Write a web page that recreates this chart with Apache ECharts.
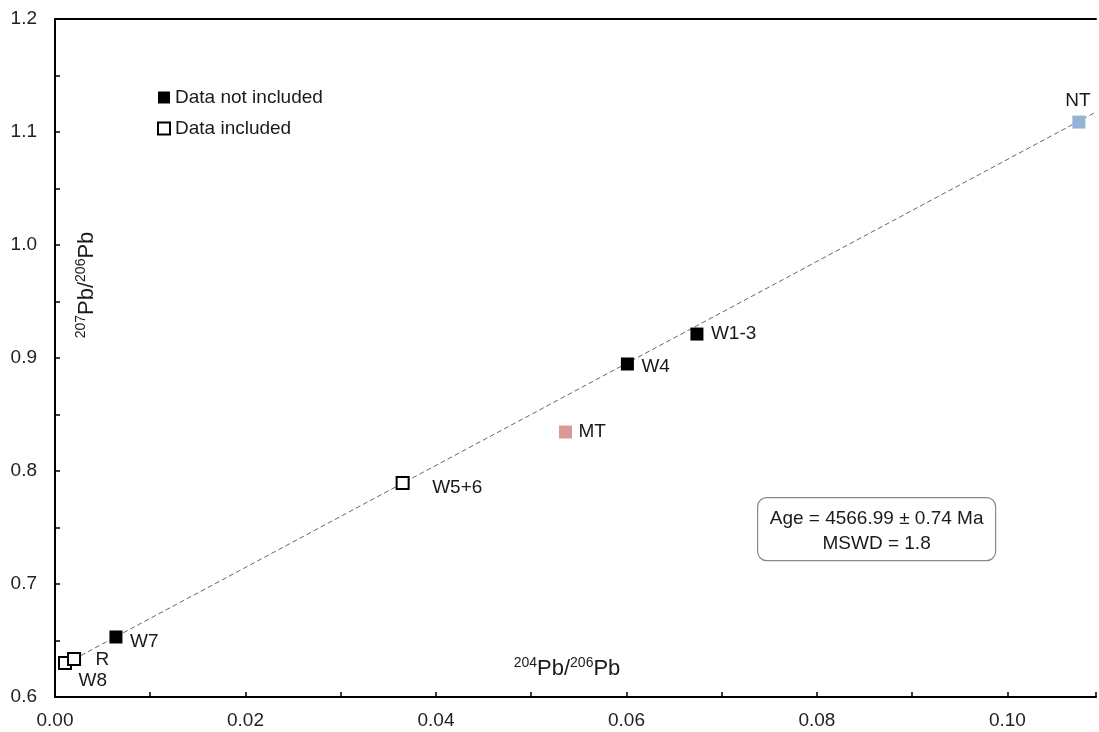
<!DOCTYPE html>
<html>
<head>
<meta charset="utf-8">
<script src="https://cdn.jsdelivr.net/npm/echarts@6/dist/echarts.min.js"></script>
<style>
  html, body { margin: 0; padding: 0; background: #fff; }
  #chart { width: 1099px; height: 732px; }
</style>
</head>
<body>
<div id="chart"></div>
<script>
// samples
const pointNames = ['W8', 'R', 'W7', 'W5+6', 'MT', 'W4', 'W1-3', 'NT'];
const pb204 = [0.00105, 0.0020, 0.0064, 0.0365, 0.0536, 0.0601, 0.0674, 0.1075];
const pb207 = [0.6300, 0.6336, 0.6531, 0.7894, 0.8345, 0.8947, 0.9212, 1.1088];
const pointGroup = ['included', 'included', 'notIncluded', 'included', 'MT', 'notIncluded', 'notIncluded', 'NT'];

// isochron fit (end points)
const fitX = [0.0005, 0.1093];
const fitY = [0.6267, 1.1177];

const legendNames = ['Data not included', 'Data included'];
const ageText = ['Age = 4566.99 ± 0.74 Ma', 'MSWD = 1.8'];

// label offsets (px) from marker centre
const labelShift = {
  'W8': [13, 18], 'R': [21, 1], 'W7': [14, 5], 'W5+6': [29, 5],
  'MT': [13, 0], 'W4': [14, 3], 'W1-3': [14, 0]
};

const FONT = 'Liberation Sans, Arial, sans-serif';
const SIZE = 13;

function points(group) {
  let out = [];
  pointNames.forEach(function (n, i) {
    if (pointGroup[i] !== group) return;
    let label;
    if (n === 'NT') {
      label = { position: 'top', distance: 5, offset: [-1, 0] };
    } else {
      let s = labelShift[n];
      label = { position: 'right', distance: 0, offset: [s[0] - SIZE / 2, s[1]] };
    }
    out.push({ name: n, value: [pb204[i], pb207[i]], label: label });
  });
  return out;
}

const baseLabel = {
  show: true,
  formatter: '{b}',
  color: '#1a1a1a',
  fontSize: 19,
  fontFamily: FONT
};

let myChart = echarts.init(document.getElementById('chart'));
let option = {
  animation: false,
  grid: { left: 55, right: 0, top: 19, bottom: 35 },
  legend: {
    orient: 'vertical',
    left: 157,
    top: 88,
    padding: 0,
    itemWidth: 12,
    itemHeight: 12,
    itemGap: 12,
    selectedMode: false,
    textStyle: { fontSize: 19, fontFamily: FONT, color: '#1a1a1a' },
    data: [
      { name: legendNames[0], icon: 'rect', itemStyle: { color: '#000', borderWidth: 0 } },
      { name: legendNames[1], icon: 'rect', itemStyle: { color: '#fff', borderColor: '#000', borderWidth: 2 } }
    ]
  },
  xAxis: [
    {
      type: 'value',
      min: 0,
      max: 0.1093,
      interval: 0.01,
      splitLine: { show: false },
      axisLine: { lineStyle: { color: '#000', width: 2 } },
      axisTick: { inside: true, length: 5, lineStyle: { color: '#000', width: 1.5 } },
      axisLabel: {
        margin: 14,
        fontSize: 19,
        fontFamily: FONT,
        color: '#222',
        formatter: function (v) {
          let k = Math.round(v * 100);
          return (k % 2 === 0 && Math.abs(v * 100 - k) < 1e-6) ? v.toFixed(2) : '';
        }
      }
    },
    {
      type: 'value',
      position: 'top',
      min: 0,
      max: 0.1093,
      splitLine: { show: false },
      axisLine: { lineStyle: { color: '#000', width: 2 } },
      axisTick: { show: false },
      axisLabel: { show: false }
    }
  ],
  yAxis: {
    type: 'value',
    min: 0.6,
    max: 1.2,
    interval: 0.05,
    splitLine: { show: false },
    axisLine: { show: true, lineStyle: { color: '#000', width: 2 } },
    axisTick: { show: true, inside: true, length: 5, lineStyle: { color: '#000', width: 1.5 } },
    axisLabel: {
      margin: 18,
      fontSize: 19,
      fontFamily: FONT,
      color: '#222',
      formatter: function (v) {
        let k = Math.round(v * 100);
        return k % 10 === 0 ? (k / 100).toFixed(1) : '';
      }
    }
  },
  series: [
    {
      name: 'fit',
      type: 'line',
      data: fitX.map(function (x, i) { return [x, fitY[i]]; }),
      showSymbol: false,
      silent: true,
      z: 1,
      lineStyle: { color: '#666', width: 1, type: [5, 3] }
    },
    {
      name: legendNames[1],
      type: 'scatter',
      symbol: 'rect',
      symbolSize: SIZE - 1,
      z: 3,
      itemStyle: { color: '#fff', borderColor: '#000', borderWidth: 2, opacity: 1 },
      label: baseLabel,
      data: points('included')
    },
    {
      name: legendNames[0],
      type: 'scatter',
      symbol: 'rect',
      symbolSize: SIZE,
      z: 3,
      itemStyle: { color: '#000', opacity: 1 },
      label: baseLabel,
      data: points('notIncluded')
    },
    {
      name: 'MT',
      type: 'scatter',
      symbol: 'rect',
      symbolSize: SIZE,
      z: 3,
      itemStyle: { color: '#db9996', opacity: 1 },
      label: baseLabel,
      data: points('MT')
    },
    {
      name: 'NT',
      type: 'scatter',
      symbol: 'rect',
      symbolSize: SIZE,
      z: 3,
      itemStyle: { color: '#95b3d7', opacity: 1 },
      label: baseLabel,
      data: points('NT')
    }
  ],
  graphic: [
    {
      type: 'group',
      left: 757,
      top: 497,
      children: [
        {
          type: 'rect',
          shape: { x: 0, y: 0, width: 238, height: 63, r: 9 },
          style: { fill: '#fff', stroke: '#888', lineWidth: 1.2 }
        },
        {
          type: 'text',
          x: 119, y: 21,
          style: { text: ageText[0], align: 'center', verticalAlign: 'middle', fontSize: 19, fontFamily: FONT, fill: '#1a1a1a' }
        },
        {
          type: 'text',
          x: 119, y: 46,
          style: { text: ageText[1], align: 'center', verticalAlign: 'middle', fontSize: 19, fontFamily: FONT, fill: '#1a1a1a' }
        }
      ]
    },
    {
      type: 'text',
      x: 567, y: 668,
      style: {
        text: '{s|204}{m|Pb/}{s|206}{m|Pb}',
        align: 'center', verticalAlign: 'middle',
        fill: '#1a1a1a',
        rich: {
          s: { fontSize: 14, fontFamily: FONT, verticalAlign: 'top', lineHeight: 24, fill: '#1a1a1a', padding: [0, 0, 8, 0] },
          m: { fontSize: 22, fontFamily: FONT, verticalAlign: 'bottom', lineHeight: 24, fill: '#1a1a1a' }
        }
      }
    },
    {
      type: 'text',
      x: 86, y: 285,
      rotation: Math.PI / 2,
      style: {
        text: '{s|207}{m|Pb/}{s|206}{m|Pb}',
        align: 'center', verticalAlign: 'middle',
        fill: '#1a1a1a',
        rich: {
          s: { fontSize: 14, fontFamily: FONT, verticalAlign: 'top', lineHeight: 24, fill: '#1a1a1a', padding: [0, 0, 8, 0] },
          m: { fontSize: 22, fontFamily: FONT, verticalAlign: 'bottom', lineHeight: 24, fill: '#1a1a1a' }
        }
      }
    }
  ]
};
myChart.setOption(option);
</script>
</body>
</html>
